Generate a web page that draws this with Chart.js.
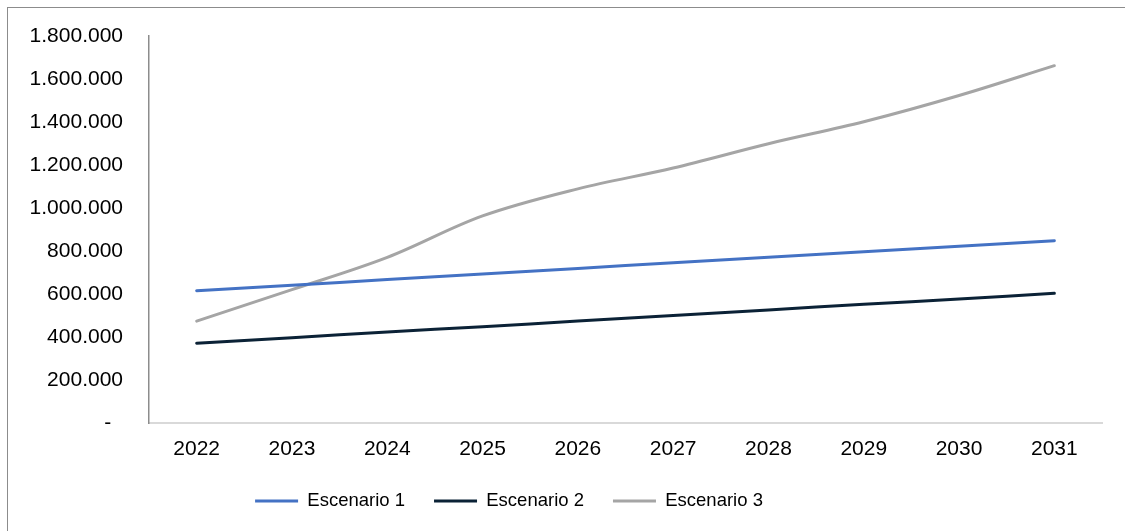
<!DOCTYPE html>
<html>
<head>
<meta charset="utf-8">
<script src="https://cdn.jsdelivr.net/npm/chart.js@4/dist/chart.umd.min.js"></script>
<style>
  html, body { margin: 0; padding: 0; background: #fff; }
  #wrap { position: relative; width: 1125px; height: 531px; overflow: hidden; }
  #frame { position: absolute; left: 7px; top: 7px; width: 1200px; height: 600px;
           border-top: 1px solid #8c8c8c; border-left: 1px solid #8c8c8c; }
  canvas { position: absolute; left: 0; top: 0; }
</style>
</head>
<body>
<div id="wrap">
  <div id="frame"></div>
  <canvas id="c" width="1125" height="531"></canvas>
</div>
<script>
// Years on the horizontal axis
const years = ['2022', '2023', '2024', '2025', '2026', '2027', '2028', '2029', '2030', '2031'];

// Projected values per scenario
const escenario1 = [615000, 641000, 667000, 693000, 719000, 745000, 771000, 797000, 822000, 848000];
const escenario2 = [371000, 397000, 423000, 448000, 474000, 500000, 526000, 552000, 577000, 603000];
const escenario3 = [474000, 620000, 770000, 963000, 1089000, 1186000, 1299000, 1401000, 1523000, 1662000];

// Vertical axis tick values and their labels
const yTickValues = [0, 200000, 400000, 600000, 800000, 1000000, 1200000, 1400000, 1600000, 1800000];
const yTickLabels = ['-  ', '200.000', '400.000', '600.000', '800.000', '1.000.000', '1.200.000', '1.400.000', '1.600.000', '1.800.000'];

const FONT = "'Liberation Sans', Arial, sans-serif";

function series(label, data, color) {
  return {
    label, data,
    borderColor: color,
    backgroundColor: color,
    borderWidth: 3,
    borderCapStyle: 'round',
    borderJoinStyle: 'round',
    pointRadius: 0,
    pointHoverRadius: 0,
    tension: 0.35,
    fill: false
  };
}

// Moves the legend row horizontally so it sits under the left part of the plot
const legendShift = {
  id: 'legendShift',
  beforeDraw(chart) {
    const lg = chart.legend;
    if (!lg || lg._shifted) return;
    lg.left -= 42;
    lg.right -= 42;
    lg._shifted = true;
  }
};

new Chart(document.getElementById('c'), {
  type: 'line',
  data: {
    labels: years,
    datasets: [
      series('Escenario 1', escenario1, '#4472C4'),
      series('Escenario 2', escenario2, '#0B2236'),
      series('Escenario 3', escenario3, '#A5A5A5')
    ]
  },
  plugins: [legendShift],
  options: {
    responsive: false,
    animation: false,
    events: [],
    layout: { padding: { top: 36, right: 23, left: 0, bottom: 10.75 } },
    plugins: {
      tooltip: { enabled: false },
      legend: {
        position: 'bottom',
        labels: {
          font: { family: FONT, size: 18.5 },
          color: '#000',
          boxWidth: 43,
          boxHeight: 3,
          padding: 29,
          generateLabels(chart) {
            return chart.data.datasets.map((ds, i) => ({
              text: ds.label,
              fillStyle: ds.borderColor,
              strokeStyle: ds.borderColor,
              lineWidth: 0,
              hidden: false,
              datasetIndex: i
            }));
          }
        }
      }
    },
    scales: {
      x: {
        offset: true,
        grid: { display: false },
        border: { display: true, color: '#d9d9d9', width: 2 },
        ticks: { font: { family: FONT, size: 21 }, color: '#000', padding: 6 },
        afterFit(scale) { scale.height = 39.75; }
      },
      y: {
        min: 0,
        max: 1800000,
        afterBuildTicks(scale) { scale.ticks = yTickValues.map(v => ({ value: v })); },
        grid: { display: false },
        border: { display: true, color: '#8c8c8c', width: 1.5 },
        ticks: {
          font: { family: FONT, size: 21 },
          color: '#000',
          padding: 18,
          callback(value) { return yTickLabels[yTickValues.indexOf(value)]; }
        },
        afterFit(scale) { scale.width = 149; }
      }
    }
  }
});
</script>
</body>
</html>
